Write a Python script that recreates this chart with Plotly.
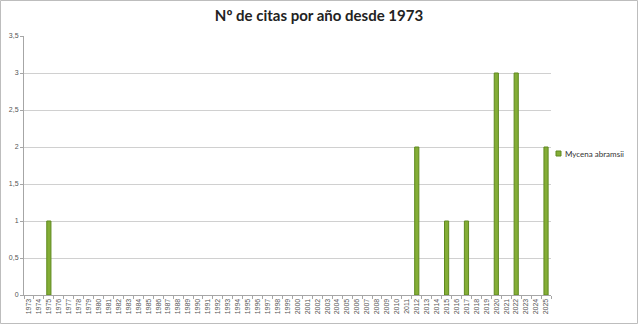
import plotly.graph_objects as go

years = [str(y) for y in range(1973, 2026)]
counts_by_year = {"1975": 1, "2012": 2, "2015": 1, "2017": 1, "2020": 3, "2022": 3, "2025": 2}
values = [counts_by_year.get(y) for y in years]
series_name = "Mycena abramsii"
title_text = "Nº de citas por año desde 1973"
y_ticks = [0, 0.5, 1, 1.5, 2, 2.5, 3, 3.5]

W, H = 638, 324
L, R, T, B = 24, 87, 36, 29
pw, ph = W - L - R, H - T - B

bar_color = "#84ad36"
bar_edge = "#5f8a1f"

fig = go.Figure()
fig.add_trace(go.Bar(
    x=years, y=values, name=series_name, showlegend=False,
    marker=dict(color=bar_color, line=dict(color=bar_edge, width=1)),
    width=0.42,
))

def px_x(px):
    return (px - L) / pw

def px_y(py):
    return (H - B - py) / ph

fig.update_layout(
    width=W, height=H,
    margin=dict(l=L, r=R, t=T, b=B, autoexpand=False),
    paper_bgcolor="white", plot_bgcolor="white",
    separators=",.",
    title=dict(text="<b>" + title_text + "</b>", x=0.5, xanchor="center", y=0.95, yanchor="middle",
               font=dict(family="Lato, Open Sans, sans-serif", size=15, color="#222")),
    showlegend=False,
    shapes=[
        dict(type="rect", xref="paper", yref="paper",
             x0=px_x(0.5), x1=px_x(W - 0.5), y0=px_y(H - 0.5), y1=px_y(0.5),
             line=dict(color="#bdbdbd", width=1)),
        dict(type="rect", xref="paper", yref="paper",
             x0=px_x(556), x1=px_x(561), y0=px_y(156), y1=px_y(151),
             fillcolor=bar_color, line=dict(color=bar_edge, width=1)),
    ],
    annotations=[
        dict(text=series_name, xref="paper", yref="paper", x=px_x(563), y=px_y(153.5),
             xanchor="left", yanchor="middle", showarrow=False,
             font=dict(family="Lato, sans-serif", size=8, color="#333")),
    ],
)
fig.update_xaxes(
    type="category", categoryorder="array", categoryarray=years,
    tickangle=-90, tickfont=dict(family="Liberation Sans, sans-serif", size=7, color="#555"),
    showline=True, linecolor="#a6a6a6", linewidth=1,
    ticks="outside", tickson="boundaries", ticklen=3, tickcolor="#a6a6a6",
    showgrid=False,
)
fig.update_yaxes(
    range=[0, 3.5], tickvals=y_ticks, tickformat=",.1~f",
    tickfont=dict(family="Liberation Sans, sans-serif", size=7, color="#555"),
    showline=True, linecolor="#a6a6a6", linewidth=1,
    ticks="outside", ticklen=3, tickcolor="#a6a6a6",
    showgrid=True, gridcolor="#d0d0d0", gridwidth=1, zeroline=False,
)

fig.write_html("out.html")
